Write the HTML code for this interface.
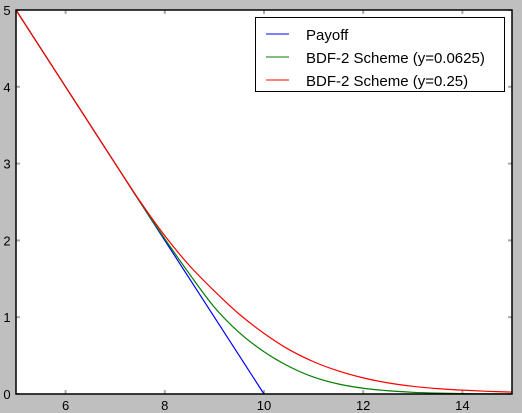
<!DOCTYPE html>
<html><head><meta charset="utf-8"><style>
html,body{margin:0;padding:0;background:#bfbfbf;}
svg{display:block;font-family:"Liberation Sans",sans-serif;}
</style></head><body>
<svg id="chart" width="522" height="413" xmlns="http://www.w3.org/2000/svg">
<rect x="0" y="0" width="522" height="413" fill="#bfbfbf"/>
<rect x="16" y="10" width="496" height="384" fill="#fff"/>
<g id="ticks"></g>
<g id="series"></g>
<rect x="16" y="10" width="496" height="384" fill="none" stroke="#000" stroke-width="1.5"/>
<g id="legend">
<rect x="255.5" y="17.5" width="249" height="74" fill="#fff" stroke="#000"/>
<line x1="266" y1="34" x2="289" y2="34" stroke="#0000ff"/>
<text x="306" y="40" font-size="15">Payoff</text>
<line x1="266" y1="57" x2="289" y2="57" stroke="#007f00"/>
<text x="306" y="63" font-size="15">BDF-2 Scheme (y=0.0625)</text>
<line x1="266" y1="80" x2="289" y2="80" stroke="#ff0000"/>
<text x="306" y="86" font-size="15">BDF-2 Scheme (y=0.25)</text>
</g>
</svg>
<script>
const xs = [5,5.5,6,6.5,7,7.5,8,8.5,9,9.5,10,10.5,11,11.5,12,12.5,13,13.5,14,14.5,15];
const payoff = [5,4.5,4,3.5,3,2.5,2,1.5,1,0.5,0,0,0,0,0,0,0,0,0,0,0];
const green = [5,4.5,4,3.5,3,2.5,2.02,1.56,1.13,0.80,0.55,0.36,0.22,0.13,0.075,0.042,0.022,0.011,0.005,0.002,0];
const red = [5,4.5,4,3.5,3,2.51,2.06,1.67,1.34,1.04,0.79,0.58,0.42,0.30,0.21,0.145,0.10,0.07,0.05,0.035,0.025];
const xTicks = [6,8,10,12,14];
const yTicks = [0,1,2,3,4,5];

const NS = "http://www.w3.org/2000/svg";
const X0=16,X1=512,Y0=394,Y1=10;
function sx(v){return X0+(v-5)/10*(X1-X0);}
function sy(v){return Y0-(v/5)*(Y0-Y1);}
function mk(tag,attrs){const e=document.createElementNS(NS,tag);for(const k in attrs)e.setAttribute(k,attrs[k]);return e;}
const tg=document.getElementById('ticks');
xTicks.forEach(t=>{
  const x=sx(t);
  const a=mk('line',{x1:x,y1:Y0,x2:x,y2:Y0-4,stroke:'#aaa','stroke-width':2});
  
  
  tg.appendChild(a);
  const b=mk('line',{x1:x,y1:Y1,x2:x,y2:Y1+4,stroke:'#aaa','stroke-width':2});
  
  
  tg.appendChild(b);
  const l=mk('text',{x:x,y:410,'font-size':13,'text-anchor':'middle'});
  l.textContent=t;
  
  
  tg.appendChild(l);
});
yTicks.forEach(t=>{
  const y=sy(t);
  const a=mk('line',{x1:X0,y1:y,x2:X0+4,y2:y,stroke:'#aaa','stroke-width':2});
  
  
  tg.appendChild(a);
  const b=mk('line',{x1:X1,y1:y,x2:X1-4,y2:y,stroke:'#aaa','stroke-width':2});
  
  
  tg.appendChild(b);
  const l=mk('text',{x:7,y:y+5,'font-size':13,'text-anchor':'middle'});
  l.textContent=t;
  
  
  tg.appendChild(l);
});
function smoothPath(vals){
  const p=xs.map((x,i)=>[sx(x),sy(vals[i])]);
  let d='M'+p[0][0]+','+p[0][1];
  for(let i=0;i<p.length-1;i++){
    const p0=p[i-1]||p[i],p1=p[i],p2=p[i+1],p3=p[i+2]||p2;
    const c1=[p1[0]+(p2[0]-p0[0])/6,p1[1]+(p2[1]-p0[1])/6];
    const c2=[p2[0]-(p3[0]-p1[0])/6,p2[1]-(p3[1]-p1[1])/6];
    d+=' C'+c1+' '+c2+' '+p2;
  }
  return d;
}
function linePath(vals,n){return xs.slice(0,n).map((x,i)=>(i?'L':'M')+sx(x)+','+sy(vals[i])).join(' ');}
const sg=document.getElementById('series');
const pPay=mk('path',{d:linePath(payoff,11),fill:'none',stroke:'#0000ff','stroke-width':1.2});


sg.appendChild(pPay);
const pG=mk('path',{d:smoothPath(green),fill:'none',stroke:'#007f00','stroke-width':1.2});


sg.appendChild(pG);
const pR=mk('path',{d:smoothPath(red),fill:'none',stroke:'#ff0000','stroke-width':1.2});


sg.appendChild(pR);
</script>
</body></html>
